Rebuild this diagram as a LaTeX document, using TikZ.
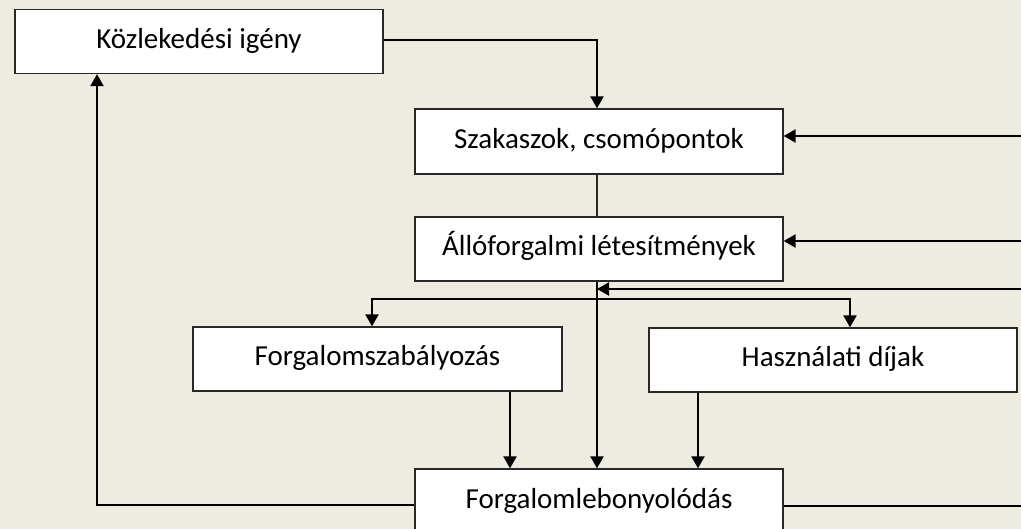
\documentclass[tikz,border=0pt]{standalone}
\usepackage{fontspec}
\setmainfont{Carlito}
\usetikzlibrary{arrows.meta}
\definecolor{paper}{RGB}{238,235,224}
\definecolor{edge}{RGB}{40,40,40}
\begin{document}
\begin{tikzpicture}[x=1pt,y=-1pt,
  stagebox/.style={draw=edge,line width=1.3pt,fill=white,inner sep=0pt,
    minimum width=368pt,minimum height=64pt,
    font=\fontsize{29}{34}\selectfont,text height=20pt,text depth=6pt},
  conn/.style={line width=2.2pt,black,-{Triangle[length=12pt,width=13pt]}},
  plain/.style={line width=2.2pt,black},
  thin/.style={line width=1.3pt,edge}]
  \fill[paper] (0,0) rectangle (1021,529);
  \useasboundingbox (0,0) rectangle (1021,529);
  \clip (0,0) rectangle (1021,529);

  % stages of the model
  \node[stagebox] (igeny) at (199,41.5) {Közlekedési igény};
  \node[stagebox,minimum height=65pt] (szak) at (599,141.5) {Szakaszok, csomópontok};
  \node[stagebox] (allo) at (599,249) {Állóforgalmi létesítmények};
  \node[stagebox,minimum width=369pt] (szab) at (377.5,359) {Forgalomszabályozás};
  \node[stagebox] (dij) at (833,360) {Használati díjak};
  \node[stagebox] (lebony) at (599,501) {Forgalomlebonyolódás};

  % points of the connectors
  \coordinate (topbend) at (597,40);
  \coordinate (leftbend) at (97,505);
  \coordinate (rA) at (1021,136);
  \coordinate (rB) at (1021,241);
  \coordinate (rC) at (1021,289);
  \coordinate (rD) at (1021,506);
  \coordinate (joinC) at (597,289);
  \coordinate (split) at (597,299);

  % demand feeds the network
  \draw[conn] (igeny.east |- topbend) -- (topbend) -- (topbend |- szak.north);
  \draw[thin] (topbend |- szak.south) -- (topbend |- allo.north);
  % main flow downwards
  \draw[conn] (topbend |- allo.south) -- (topbend |- lebony.north);
  % branch to regulation and fees
  \draw[plain,{Triangle[length=12pt,width=13pt]}-{Triangle[length=12pt,width=13pt]}]
    (372,0 |- szab.north) -- (372,299) -- (850,299) -- (850,0 |- dij.north);
  \draw[conn] (510,0 |- szab.south) -- (510,0 |- lebony.north);
  \draw[conn] (698,0 |- dij.south) -- (698,0 |- lebony.north);
  % feedback loops
  \draw[conn] (lebony.west |- leftbend) -- (leftbend) -- (leftbend |- igeny.south);
  \draw[plain] (lebony.east |- rD) -- (rD);
  \draw[conn] (rA) -- (rA -| szak.east);
  \draw[conn] (rB) -- (rB -| allo.east);
  \draw[conn] (rC) -- (joinC);
\end{tikzpicture}
\end{document}
